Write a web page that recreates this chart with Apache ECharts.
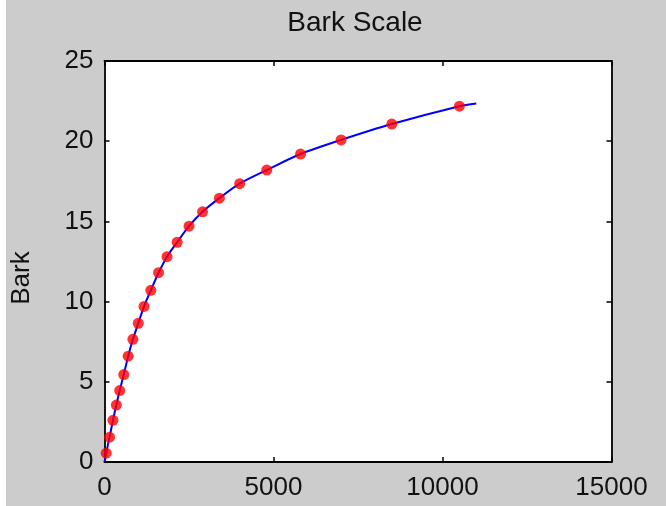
<!DOCTYPE html>
<html>
<head>
<meta charset="utf-8">
<script src="https://cdn.jsdelivr.net/npm/echarts@6/dist/echarts.min.js"></script>
<style>
html,body{margin:0;padding:0;background:#fff;}
#c{width:666px;height:506px;}
</style>
</head>
<body>
<div id="c"></div>
<script>
// Data
var title = 'Bark Scale';
var yName = 'Bark';
var xTicks = [0, 5000, 10000, 15000];
var yTicks = [0, 5, 10, 15, 20, 25];
var dotFreq = [50, 150, 250, 350, 450, 570, 700, 840, 1000, 1170, 1370, 1600, 1850, 2150, 2500, 2900, 3400, 4000, 4800, 5800, 7000, 8500, 10500];
var dotBark = [0.55, 1.55, 2.6, 3.55, 4.45, 5.45, 6.6, 7.65, 8.65, 9.7, 10.7, 11.8, 12.8, 13.7, 14.7, 15.6, 16.45, 17.35, 18.2, 19.2, 20.08, 21.07, 22.18];
var lineFreq = [0, 50, 150, 250, 350, 450, 570, 700, 840, 1000, 1170, 1370, 1600, 1850, 2150, 2500, 2900, 3400, 4000, 4800, 5800, 7000, 8500, 10500, 11000];
var lineBark = [0, 0.55, 1.55, 2.6, 3.55, 4.45, 5.45, 6.6, 7.65, 8.65, 9.7, 10.7, 11.8, 12.8, 13.7, 14.7, 15.6, 16.45, 17.35, 18.2, 19.2, 20.08, 21.07, 22.18, 22.35];

var chart = echarts.init(document.getElementById('c'), null, {renderer: 'canvas'});
var font = 'Liberation Sans, Arial, Helvetica, sans-serif';
var FS = 26;
var GL = 104.5, GT = 61, GR = 611.5, GB = 462;

function axisCommon(extra) {
  var o = {
    axisLine: {show: true, onZero: false, lineStyle: {color: '#000', width: 1.8}},
    axisTick: {show: true, inside: true, length: 5, lineStyle: {color: '#000', width: 1.5}},
    splitLine: {show: false}
  };
  for (var k in extra) o[k] = extra[k];
  return o;
}

chart.setOption({
  backgroundColor: '#ffffff',
  animation: false,
  graphic: [
    {type: 'rect', z: -10, shape: {x: 6, y: 0, width: 660, height: 506}, style: {fill: '#cccccc'}},
    {type: 'rect', z: -5, shape: {x: GL, y: GT, width: GR - GL, height: GB - GT}, style: {fill: '#ffffff'}},
    {type: 'text', x: 355, y: 23, style: {text: title, font: '28px ' + font, fill: '#111', align: 'center', verticalAlign: 'middle'}},
    {type: 'text', x: 22, y: 278, rotation: Math.PI / 2, style: {text: yName, font: FS + 'px ' + font, fill: '#111', align: 'center', verticalAlign: 'middle'}}
  ],
  grid: {left: GL, top: GT, width: GR - GL, height: GB - GT, containLabel: false},
  xAxis: [
    axisCommon({type: 'value', min: xTicks[0], max: xTicks[xTicks.length - 1], interval: xTicks[1] - xTicks[0], position: 'bottom',
      axisLabel: {color: '#111', fontSize: FS, fontFamily: font, margin: 13, formatter: function (v) { return String(v); }}}),
    axisCommon({type: 'value', min: xTicks[0], max: xTicks[xTicks.length - 1], interval: xTicks[1] - xTicks[0], position: 'top',
      axisLabel: {show: false}})
  ],
  yAxis: [
    axisCommon({type: 'value', min: yTicks[0], max: yTicks[yTicks.length - 1], interval: yTicks[1] - yTicks[0], position: 'left',
      axisLabel: {color: '#111', fontSize: FS, fontFamily: font, margin: 11, formatter: function (v) { return String(v); }}}),
    axisCommon({type: 'value', min: yTicks[0], max: yTicks[yTicks.length - 1], interval: yTicks[1] - yTicks[0], position: 'right',
      axisLabel: {show: false}})
  ],
  series: [
    {
      type: 'line',
      data: lineFreq.map(function (f, i) { return [f, lineBark[i]]; }),
      smooth: 0.3,
      showSymbol: false,
      lineStyle: {color: '#0000ff', width: 2},
      z: 2
    },
    {
      type: 'scatter',
      data: dotFreq.map(function (f, i) { return [f, dotBark[i]]; }),
      symbol: 'circle',
      symbolSize: 11,
      itemStyle: {color: '#ff0000'},
      z: 3
    }
  ]
});
</script>
</body>
</html>
